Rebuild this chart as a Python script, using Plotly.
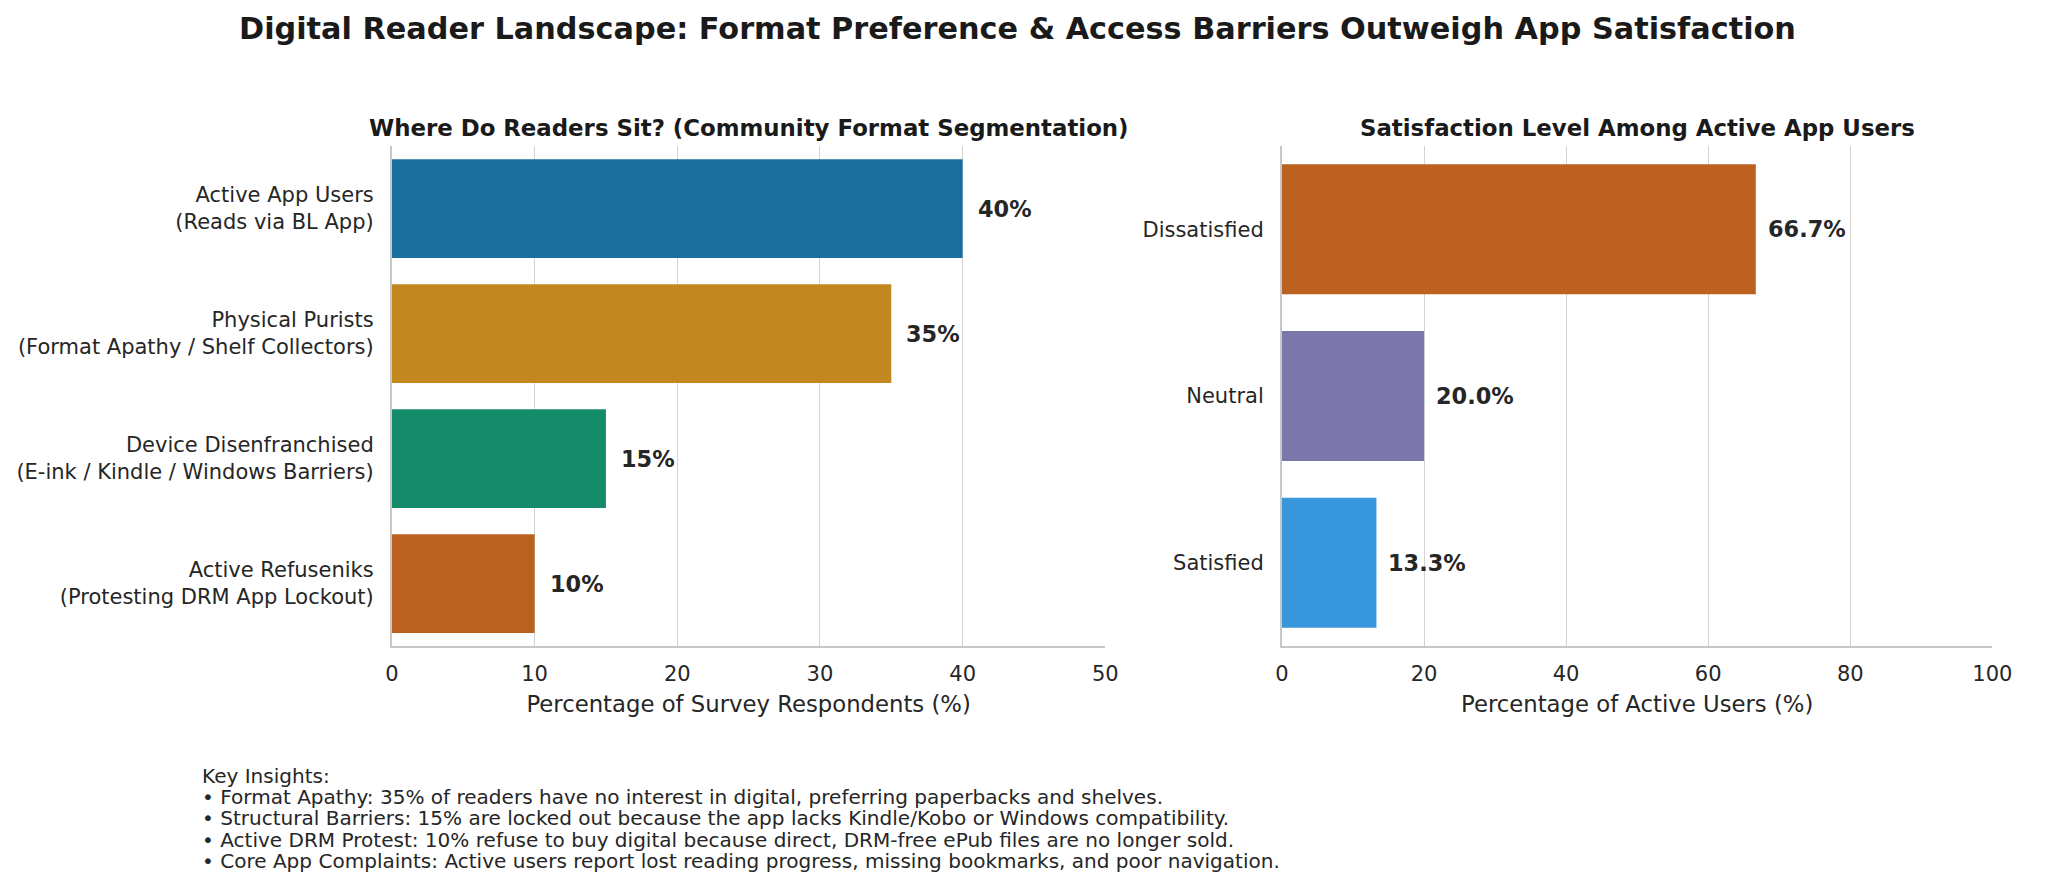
import plotly.graph_objects as go

# ---- data ----
segments = [
    "Active App Users<br>(Reads via BL App)",
    "Physical Purists<br>(Format Apathy / Shelf Collectors)",
    "Device Disenfranchised<br>(E-ink / Kindle / Windows Barriers)",
    "Active Refuseniks<br>(Protesting DRM App Lockout)",
]
segment_pct = [40, 35, 15, 10]
segment_labels = ["40%", "35%", "15%", "10%"]
segment_colors = ["#1a6e9e", "#c2881f", "#168b6a", "#bb611f"]

satisfaction = ["Dissatisfied", "Neutral", "Satisfied"]
satisfaction_pct = [66.7, 20.0, 13.3]
satisfaction_labels = ["66.7%", "20.0%", "13.3%"]
satisfaction_colors = ["#bd6120", "#7c77ab", "#3896dc"]

left_ticks = [0, 10, 20, 30, 40, 50]
right_ticks = [0, 20, 40, 60, 80, 100]

insights = [
    "Key Insights:",
    "• Format Apathy: 35% of readers have no interest in digital, preferring paperbacks and shelves.",
    "• Structural Barriers: 15% are locked out because the app lacks Kindle/Kobo or Windows compatibility.",
    "• Active DRM Protest: 10% refuse to buy digital because direct, DRM-free ePub files are no longer sold.",
    "• Core App Complaints: Active users report lost reading progress, missing bookmarks, and poor navigation.",
]

FONT = "DejaVu Sans"
TXT = "#262626"
GRID = "#d3d3d3"
OFF = 8  # page body margin
W, H = 2048 - 2 * OFF, 885 - 2 * OFF


def px(x):
    return (x - OFF) / W


def py(y):
    return 1 - (y - OFF) / H


fig = go.Figure()
fig.add_trace(go.Bar(
    x=segment_pct, y=segments, orientation="h",
    marker=dict(color=segment_colors, line=dict(width=0)),
    width=0.79, xaxis="x", yaxis="y", showlegend=False, hoverinfo="x+y",
))
fig.add_trace(go.Bar(
    x=satisfaction_pct, y=satisfaction, orientation="h",
    marker=dict(color=satisfaction_colors, line=dict(width=0)),
    width=0.78, xaxis="x2", yaxis="y2", showlegend=False, hoverinfo="x+y",
))

annotations = []
for cat, v, lab in zip(segments, segment_pct, segment_labels):
    annotations.append(dict(x=v, y=cat, xref="x", yref="y", text="<b>%s</b>" % lab,
                            showarrow=False, xanchor="left", xshift=13,
                            font=dict(family=FONT, size=22.4, color=TXT)))
for cat, v, lab in zip(satisfaction, satisfaction_pct, satisfaction_labels):
    annotations.append(dict(x=v, y=cat, xref="x2", yref="y2", text="<b>%s</b>" % lab,
                            showarrow=False, xanchor="left", xshift=10,
                            font=dict(family=FONT, size=22.4, color=TXT)))

# titles
annotations.append(dict(x=px(1024), y=py(28), xref="paper", yref="paper",
                        text="<b>Digital Reader Landscape: Format Preference &amp; Access Barriers Outweigh App Satisfaction</b>",
                        showarrow=False, xanchor="center", yanchor="middle",
                        font=dict(family=FONT, size=30.3, color="#1a1a1a")))
annotations.append(dict(x=px((390 + 1113) / 2), y=py(128), xref="paper", yref="paper",
                        text="<b>Where Do Readers Sit? (Community Format Segmentation)</b>",
                        showarrow=False, xanchor="center", yanchor="middle",
                        font=dict(family=FONT, size=22.85, color="#1a1a1a")))
annotations.append(dict(x=px((1292 + 2012) / 2), y=py(128), xref="paper", yref="paper",
                        text="<b>Satisfaction Level Among Active App Users</b>",
                        showarrow=False, xanchor="center", yanchor="middle",
                        font=dict(family=FONT, size=22.85, color="#1a1a1a")))
line_y = [776, 797, 818, 840, 861]
for ly, line in zip(line_y, insights):
    annotations.append(dict(x=px(195), y=py(ly), xref="paper", yref="paper",
                            text=line, align="left",
                            showarrow=False, xanchor="left", yanchor="middle",
                            font=dict(family=FONT, size=20.05, color=TXT)))

axis_common = dict(
    showgrid=True, gridcolor=GRID, gridwidth=1.4,
    showline=True, linecolor="#c8c8c8", linewidth=2,
    zeroline=False, ticks="", ticklabelstandoff=8,
    tickfont=dict(family=FONT, size=21, color=TXT),
)
yaxis_common = dict(
    autorange="reversed", showgrid=False,
    showline=True, linecolor="#c8c8c8", linewidth=2, ticks="",
    ticklabelstandoff=12,
    tickfont=dict(family=FONT, size=21, color=TXT),
)

fig.update_layout(
    width=W, height=H,
    margin=dict(l=0, r=0, t=0, b=0),
    paper_bgcolor="white", plot_bgcolor="white",
    font=dict(family=FONT, color=TXT),
    annotations=annotations,
    xaxis=dict(domain=[px(390), px(1113)], range=[0, 50], tickvals=left_ticks,
               title=dict(text="Percentage of Survey Respondents (%)",
                          font=dict(family=FONT, size=22.75, color=TXT), standoff=11),
               anchor="y", **axis_common),
    yaxis=dict(domain=[py(646), py(146)], anchor="x", **yaxis_common),
    xaxis2=dict(domain=[px(1292), px(2012)], range=[0, 100], tickvals=right_ticks,
                title=dict(text="Percentage of Active Users (%)",
                           font=dict(family=FONT, size=22.75, color=TXT), standoff=11),
                anchor="y2", **axis_common),
    yaxis2=dict(domain=[py(646), py(146)], anchor="x2", **yaxis_common),
)

fig.write_html("out.html")
